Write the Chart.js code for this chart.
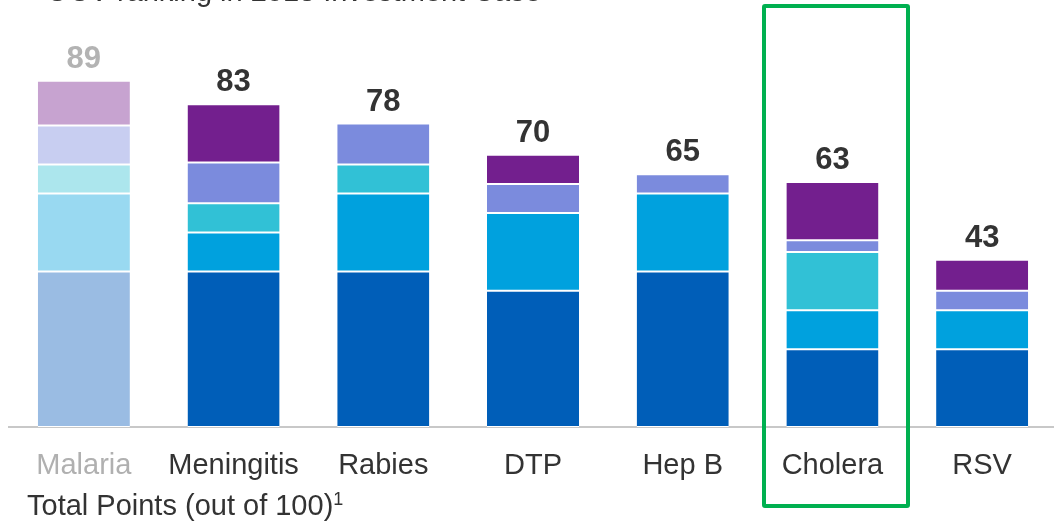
<!DOCTYPE html>
<html>
<head>
<meta charset="utf-8">
<script src="https://cdn.jsdelivr.net/npm/chart.js@4/dist/chart.umd.min.js"></script>
<style>
  html, body { margin: 0; padding: 0; background: #fff; overflow: hidden; }
  #wrap { position: relative; width: 1054px; height: 524px; overflow: hidden; }
  #box { position: absolute; left: 1060px; top: 0; width: 1060px; height: 524px; }
  .txt { position: absolute; font-family: 'Liberation Sans', Arial, sans-serif; font-size: 29px; line-height: 29px; color: #333; white-space: nowrap; }
  #title { left: 46px; top: -23px; }
  #foot { left: 27px; top: 491px; }
  #foot sup { font-size: 18px; vertical-align: 10px; line-height: 0; }
  #hl { position: absolute; left: 762px; top: 4px; width: 148px; height: 504px; border: 4px solid #00b050; border-radius: 3px; box-sizing: border-box; }
</style>
</head>
<body>
<div id="wrap">
  <div style="position:absolute;left:0;top:0;width:1060px;height:524px;">
    <canvas id="barChart" width="1060" height="524"></canvas>
  </div>
  <div class="txt" id="title">OCV ranking in 2018 Investment Case</div>
  <div class="txt" id="foot">Total Points (out of 100)<sup>1</sup></div>
  <div id="hl"></div>
</div>
<script>
var vaccines = ['Malaria', 'Meningitis', 'Rabies', 'DTP', 'Hep B', 'Cholera', 'RSV'];
var totals = [89, 83, 78, 70, 65, 63, 43];

var healthImpact = [40, 40, 40, 35, 40, 20, 20];
var valueForMoney = [20, 10, 20, 20, 20, 10, 10];
var equity = [7.5, 7.5, 7.5, 0, 0, 15, 0];
var healthSecurity = [10, 10.5, 10.5, 7.5, 5, 3, 5];
var otherImpact = [11.5, 15, 0, 7.5, 0, 15, 8];

var seriesNames = ['Health impact', 'Value for money', 'Equity', 'Global health security', 'Other impact'];
var seriesData = [healthImpact, valueForMoney, equity, healthSecurity, otherImpact];
var colors = ['#005eb8', '#00a1de', '#31c1d6', '#7b8bdd', '#731f8e'];
var fadedColors = ['#9abce3', '#99d9f1', '#ace6ed', '#c8cef1', '#c7a3d0'];

var datasets = seriesData.map(function (vals, i) {
    return {
        label: seriesNames[i],
        data: vals,
        backgroundColor: vaccines.map(function (v, j) { return j === 0 ? fadedColors[i] : colors[i]; }),
        borderColor: '#ffffff',
        borderWidth: { top: 1, bottom: 1, left: 0, right: 0 },
        borderSkipped: false,
        barPercentage: 0.615,
        categoryPercentage: 1
    };
});

var totalLabels = {
    id: 'totalLabels',
    afterDatasetsDraw: function (chart) {
        var ctx = chart.ctx;
        var x = chart.scales.x;
        var y = chart.scales.y;
        ctx.save();
        ctx.font = 'bold 31px "Liberation Sans", Arial, sans-serif';
        ctx.textAlign = 'center';
        ctx.textBaseline = 'alphabetic';
        totals.forEach(function (t, i) {
            ctx.fillStyle = i === 0 ? '#b3b3b3' : '#333333';
            ctx.fillText(t, x.getPixelForValue(i), y.getPixelForValue(t) - 13);
        });
        ctx.restore();
    }
};

var bar = document.getElementById('barChart').getContext('2d');
var barChart = new Chart(bar, {
    type: 'bar',
    data: { labels: vaccines, datasets: datasets },
    plugins: [totalLabels],
    options: {
        responsive: false,
        animation: false,
        layout: { padding: { top: 38, left: 9, right: 3, bottom: 0 } },
        plugins: { legend: { display: false }, tooltip: { enabled: false } },
        scales: {
            x: {
                stacked: true,
                afterFit: function (scale) { scale.height = 97; },
                grid: { display: false, drawTicks: false },
                border: { display: true, color: '#c8c8c8', width: 2 },
                ticks: {
                    padding: 22,
                    font: { family: '"Liberation Sans", Arial, sans-serif', size: 29 },
                    color: function (c) { return c.index === 0 ? '#b0b0b0' : '#333333'; }
                }
            },
            y: {
                stacked: true,
                display: false,
                min: 0,
                max: 100
            }
        }
    }
});
</script>
</body>
</html>
